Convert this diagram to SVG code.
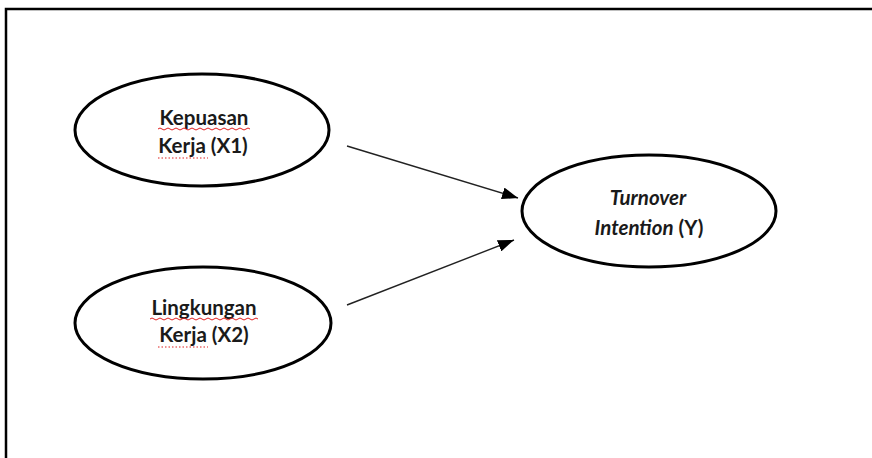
<svg xmlns="http://www.w3.org/2000/svg" width="872" height="458" viewBox="0 0 872 458">
<style>
.node ellipse{fill:#fff;stroke:#000;stroke-width:3}
.lbl{font-family:Lato,"Liberation Sans",sans-serif;font-weight:bold;font-size:20.5px;fill:#1a1a1a;text-anchor:middle}
.it{font-style:italic}
.conn line{stroke:#222;stroke-width:1.4}
.wave{fill:none;stroke:#e02020;stroke-width:1}
.dots{fill:none;stroke:#e02020;stroke-width:1.2;stroke-dasharray:1.5 2}
</style>
<defs>
<marker id="ah" viewBox="0 0 16 12" refX="16" refY="6" markerWidth="16" markerHeight="12" markerUnits="userSpaceOnUse" orient="auto">
<path d="M0,0 L16,6 L0,12 Z" fill="#000"/>
</marker>
</defs>
<rect x="0" y="0" width="872" height="458" fill="#fff"/>
<path d="M6,460 V9 H874" fill="none" stroke="#000" stroke-width="2.5"/>
<g id="n1" class="node">
<ellipse cx="202" cy="130" rx="127" ry="56"/>
<text class="lbl" x="204" y="125">Kepuasan</text>
<text class="lbl" x="203" y="153">Kerja (X1)</text>
<path class="wave" d="M158,129 q2,-2 4,0 t4,0 t4,0 t4,0 t4,0 t4,0 t4,0 t4,0 t4,0 t4,0 t4,0 t4,0 t4,0 t4,0 t4,0 t4,0 t4,0 t4,0 t4,0 t4,0 t4,0 t4,0 t4,0"/>
<path class="dots" d="M158,158 H208"/>
</g>
<g id="n2" class="node">
<ellipse cx="203" cy="323" rx="128" ry="56"/>
<text class="lbl" x="204" y="315">Lingkungan</text>
<text class="lbl" x="204" y="342">Kerja (X2)</text>
<path class="wave" d="M150,319 q2,-2 4,0 t4,0 t4,0 t4,0 t4,0 t4,0 t4,0 t4,0 t4,0 t4,0 t4,0 t4,0 t4,0 t4,0 t4,0 t4,0 t4,0 t4,0 t4,0 t4,0 t4,0 t4,0 t4,0 t4,0 t4,0 t4,0 t4,0"/>
<path class="dots" d="M158,347 H208"/>
</g>
<g id="n3" class="node">
<ellipse cx="649" cy="211" rx="127" ry="56"/>
<text class="lbl" x="648" y="205"><tspan class="it">Turnover</tspan></text>
<text class="lbl" x="649" y="235"><tspan class="it">Intention</tspan> (Y)</text>
</g>
<g id="connectors" class="conn">
<line x1="347" y1="146" x2="518" y2="198" marker-end="url(#ah)"/>
<line x1="347" y1="305" x2="514" y2="240" marker-end="url(#ah)"/>
</g>
</svg>
